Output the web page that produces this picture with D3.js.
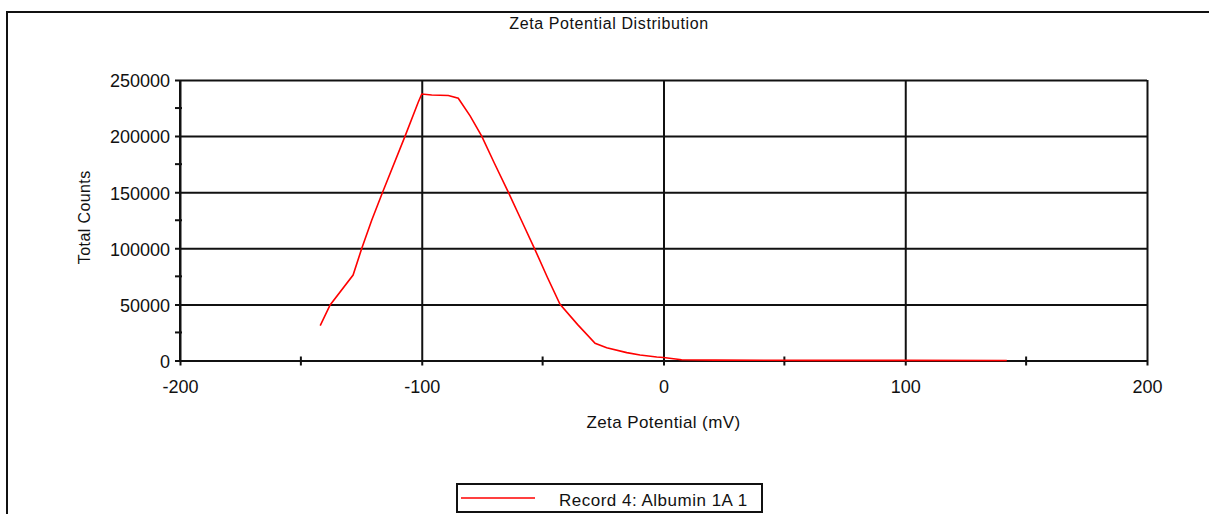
<!DOCTYPE html>
<html>
<head>
<meta charset="utf-8">
<script src="https://cdn.jsdelivr.net/npm/d3@7"></script>
<style>
  body { margin: 0; background: #fff; }
  svg { display: block; }
  text { font-family: "Liberation Sans", Arial, sans-serif; fill: #111; }
  .tick text { font-size: 18px; }
  .domain { display: none; }
</style>
</head>
<body>
<script>
// Zeta potential (mV) and total counts
const zeta = [-142, -137.9, -128.4, -124.8, -120.7, -116.2, -106.9, -101.5, -100, -95.9, -89, -84.9, -80, -75.2, -70, -64.2, -58.8, -53.4, -48, -42.8, -35.5, -28.3, -23.5, -15.2, -9.7, -2.8, 0, 7.5, 14, 21.3, 60, 100, 142];
const counts = [31000, 49500, 76200, 100000, 125000, 150000, 200000, 230000, 237500, 236600, 236200, 233700, 218000, 200000, 176000, 150000, 125000, 100000, 74000, 50000, 32000, 15300, 11400, 7000, 4900, 3100, 2700, 700, 400, 300, 150, 80, 0];

const xTicks = [-200, -100, 0, 100, 200];
const xMinor = [-150, -50, 50, 150];
const yTicks = [0, 50000, 100000, 150000, 200000, 250000];
const yMinor = [25000, 75000, 125000, 175000, 225000];

const title = "Zeta Potential Distribution";
const xLabel = "Zeta Potential (mV)";
const yLabel = "Total Counts";
const seriesName = "Record 4: Albumin 1A 1";

const W = 1209, H = 514;
const margin = { top: 80, right: 62, bottom: 153.5, left: 180 };
const width = W - margin.left - margin.right;
const height = H - margin.top - margin.bottom;

const fmt = d => String(d); // plain hyphen for negatives

const svg = d3.select(document.body).append('svg')
  .attr('width', W)
  .attr('height', H);

// outer frame (left + top only, the rest is cropped)
svg.append('path')
  .attr('d', `M7,${H} L7,12 L${W},12`)
  .attr('fill', 'none')
  .attr('stroke', '#111')
  .attr('stroke-width', 2);

svg.append('text')
  .attr('x', 609)
  .attr('y', 29)
  .attr('text-anchor', 'middle')
  .style('font-size', '16px')
  .style('letter-spacing', '0.6px')
  .text(title);

const g = svg.append('g')
  .attr('transform', `translate(${margin.left},${margin.top})`);

const x = d3.scaleLinear().domain([-200, 200]).range([0, width]);
const y = d3.scaleLinear().domain([0, 250000]).range([height, 0]);

// horizontal grid + y labels
const yAxis = g.append('g')
  .call(d3.axisLeft(y).tickValues(yTicks).tickSize(-width).tickPadding(10).tickFormat(fmt));
yAxis.selectAll('.tick line')
  .attr('x1', -5)
  .attr('stroke', '#111')
  .attr('stroke-width', 2);
yAxis.selectAll('.tick text').attr('dy', '0.38em');

// vertical grid + x labels
const xAxis = g.append('g')
  .attr('transform', `translate(0,${height})`)
  .call(d3.axisBottom(x).tickValues(xTicks).tickSize(-height).tickPadding(20).tickFormat(fmt));
xAxis.selectAll('.tick line')
  .attr('y1', 5)
  .attr('stroke', '#111')
  .attr('stroke-width', 2);

// minor ticks crossing the axes
g.selectAll('.ymin')
  .data(yMinor)
  .enter().append('line')
  .attr('x1', -5).attr('x2', 2)
  .attr('y1', d => y(d)).attr('y2', d => y(d))
  .attr('stroke', '#111').attr('stroke-width', 2);

g.selectAll('.xmin')
  .data(xMinor)
  .enter().append('line')
  .attr('x1', d => x(d)).attr('x2', d => x(d))
  .attr('y1', height - 4).attr('y2', height + 5)
  .attr('stroke', '#111').attr('stroke-width', 2);

// left axis line
g.append('line')
  .attr('x1', 0).attr('x2', 0)
  .attr('y1', 0).attr('y2', height)
  .attr('stroke', '#111').attr('stroke-width', 2);

const line = d3.line()
  .x((d, i) => x(zeta[i]))
  .y(d => y(d));

g.append('path')
  .datum(counts)
  .attr('fill', 'none')
  .attr('stroke', '#ff0000')
  .attr('stroke-width', 1.6)
  .attr('d', line);

// axis titles
svg.append('text')
  .attr('x', margin.left + x(0))
  .attr('y', 428)
  .attr('text-anchor', 'middle')
  .style('font-size', '17px')
  .style('letter-spacing', '0.4px')
  .text(xLabel);

svg.append('text')
  .attr('transform', `translate(90,${margin.top + height / 2 - 3}) rotate(-90)`)
  .attr('text-anchor', 'middle')
  .style('font-size', '16px')
  .style('letter-spacing', '0.4px')
  .text(yLabel);

// legend
const legend = svg.append('g');
legend.append('rect')
  .attr('x', 457).attr('y', 484)
  .attr('width', 305).attr('height', 28)
  .attr('fill', '#fff')
  .attr('stroke', '#111')
  .attr('stroke-width', 2);
legend.append('line')
  .attr('x1', 461).attr('x2', 535)
  .attr('y1', 498).attr('y2', 498)
  .attr('stroke', '#ff0000').attr('stroke-width', 1.6);
legend.append('text')
  .attr('x', 559)
  .attr('y', 506)
  .style('font-size', '17px')
  .style('letter-spacing', '0.5px')
  .text(seriesName);
</script>
</body>
</html>
